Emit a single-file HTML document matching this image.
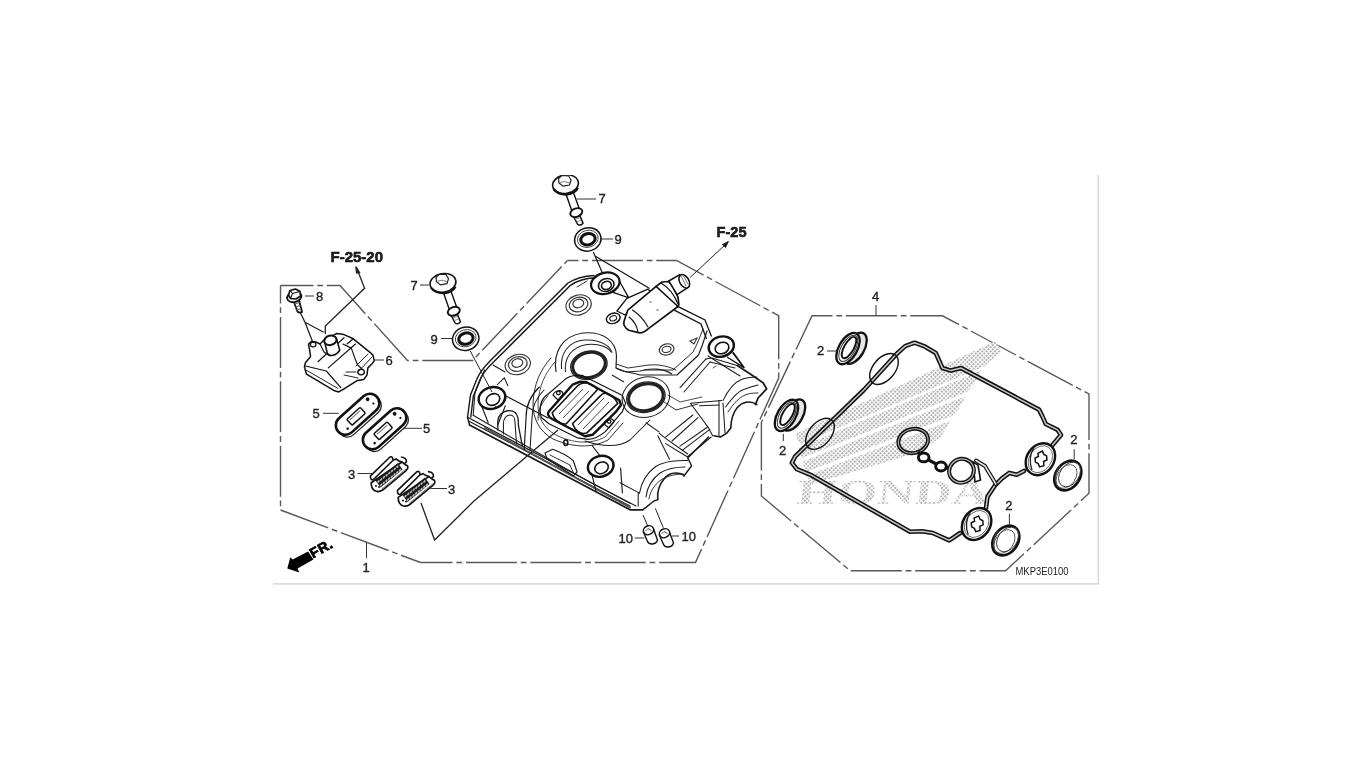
<!DOCTYPE html>
<html><head><meta charset="utf-8">
<style>
html,body{margin:0;padding:0;background:#fff;width:1366px;height:768px;overflow:hidden}
svg{position:absolute;left:0;top:0;filter:blur(0.35px)}
text{font-family:"Liberation Sans",sans-serif;fill:#222}
</style></head><body>
<svg width="1366" height="768" viewBox="0 0 1366 768">
<!-- frame -->
<path d="M273 583.8H1098.3V175" fill="none" stroke="#dcdce0" stroke-width="1.7"/>
<!-- dashed polygons -->
<g fill="none" stroke="#585858" stroke-width="1.4" stroke-dasharray="51 3.8 5.8 3.8">
<path d="M280.5 510V285.5" stroke-dashoffset="51.1"/>
<path d="M280.5 285.5H340L407.5 360.5H472.5L567.5 260.5" stroke-dashoffset="18"/>
<path d="M567.5 260.5H676.5L778.7 315.7V378L695.5 562.5H420.5" stroke-dashoffset="40"/>
<path d="M280.5 510L420.5 562.5" stroke-dashoffset="0"/>
<path d="M812 315.8H942.4L1089 394V493.3L1005.6 570.8H850.3L761.4 496V422.5Z" stroke-dashoffset="30.5"/>
</g>
<!-- labels -->
<g font-size="13" fill="#222" stroke="#222" stroke-width="0.35">
<text x="598.5" y="203">7</text>
<text x="614.5" y="244">9</text>
<text x="410.5" y="289.5">7</text>
<text x="430.5" y="343.5">9</text>
<text x="316" y="300.5">8</text>
<text x="385.5" y="364.5">6</text>
<text x="312.5" y="418">5</text>
<text x="423" y="432.5">5</text>
<text x="348" y="478.5">3</text>
<text x="448" y="493.5">3</text>
<text x="362.5" y="571.5">1</text>
<text x="618.5" y="542.7">10</text>
<text x="681.5" y="540.5">10</text>
<text x="872" y="300.5">4</text>
</g>
<g font-size="14" font-weight="bold" fill="#000" stroke="#000" stroke-width="0.5">
<text x="330.5" y="262" textLength="52.5" lengthAdjust="spacingAndGlyphs">F-25-20</text>
<text x="716.5" y="237" textLength="30" lengthAdjust="spacingAndGlyphs">F-25</text>
</g>
<text x="1015.5" y="574.5" font-size="10.5" fill="#333" textLength="53" lengthAdjust="spacingAndGlyphs">MKP3E0100</text>
<g fill="none" stroke="#333" stroke-width="1">
<path d="M577 199H596M600 239H613M420 285H429M441 338.5H452M305 296H314M374 360H384M323 413.3H338.7M403.3 428.3H422M357.5 473.5H372M430.4 488.5H447M366.5 543V558M634.7 538H644.4M672 536H679M876 305V315.5"/>
</g>

<defs>
<clipPath id="clipTop"><rect x="0" y="175" width="1366" height="600"/></clipPath>
<g id="bolt7">
 <path d="M566 194L571.8 210.8M573.7 193.3L579.5 209.3" stroke="#111" stroke-width="1.4" fill="none"/>
 <path d="M573 215.5L577.6 224.3Q580.5 226.3 583 223.2L579.3 214.2Z" stroke="#111" stroke-width="1.5" fill="#fff"/>
 <path d="M575 219.5L580.5 217.5M576.5 222L581.5 220" stroke="#777" stroke-width="0.8"/>
 <ellipse cx="576.3" cy="212.6" rx="6.2" ry="4.2" transform="rotate(-20 576.3 212.6)" stroke="#111" stroke-width="1.9" fill="#fff"/>
 <ellipse cx="565.5" cy="184.2" rx="13" ry="9.3" transform="rotate(-10 565.5 184.2)" stroke="#111" stroke-width="1.6" fill="#fff"/>
 <path d="M553.5 189Q558 195 567 194.5Q575 193.5 578 188" stroke="#111" stroke-width="2.2" fill="none"/>
 <path d="M558.5 178.5L562 175.5L568.5 175.8L571 180L569.5 185L563 186.2L559 183Z" stroke="#222" stroke-width="1.2" fill="#fff"/>
 <path d="M560 182.5L564.5 181.5L569.5 183" stroke="#555" stroke-width="0.8" fill="none"/>
</g>
<g id="washer9">
 <ellipse cx="587.8" cy="239.4" rx="13.3" ry="11.6" transform="rotate(-15 587.8 239.4)" stroke="#111" stroke-width="1.5" fill="#fff"/>
 <ellipse cx="587.8" cy="238.8" rx="10.5" ry="8.5" transform="rotate(-15 587.8 238.8)" stroke="#444" stroke-width="0.9" fill="none"/>
 <ellipse cx="588" cy="239.2" rx="7.3" ry="5.6" transform="rotate(-15 588 239.2)" stroke="#111" stroke-width="3" fill="#fff"/>
</g>
</defs>
<g clip-path="url(#clipTop)"><use href="#bolt7"/></g>
<use href="#bolt7" transform="translate(-122.5 98.7)"/>
<use href="#washer9"/>
<use href="#washer9" transform="translate(-122.1 99.4)"/>
<g fill="none" stroke="#1a1a1a" stroke-width="1.43" stroke-linejoin="round" stroke-linecap="round">
<!-- top-left double edge -->
<path d="M594 275.5C584 276 576 278 568 283L491 360C484 367 479 373 476.5 380L470.5 395L467.5 417.5L469.5 424.5"/>
<path d="M595 277.8C585 278.3 578 280.3 570.5 285.3L493.8 361.8C486.8 368.3 481.8 374.3 479.3 381.3L473.3 396.3L470.8 417"/>
<path d="M587 281L577 287" stroke-width="0.91"/>
<!-- bottom flange -->
<path d="M467.6 417.2L630 503.2" stroke-width="1.30"/>
<path d="M468.5 421L630 506" stroke-width="1.04"/>
<path d="M469.5 425L630 509.8L642.7 509.8" stroke-width="1.69"/>
<path d="M485 428L630 507.5" stroke="#555" stroke-width="2.00" stroke-dasharray="1.2 1"/>
<path d="M473.2 415.3L531.8 449.3L588.4 481.4L636 506" stroke-width="1.04"/>
<path d="M484.6 370L475 392.7L473.2 415.3" stroke-width="1.04"/>
<!-- right contour with humps -->
<path d="M642.7 509.8L646 507.4L653.9 501L657.8 499.6"/>
<path d="M657.8 499.6C657 492 659 485 664 479C668 474 675 471 683.8 474.9" stroke-width="1.60"/>
<path d="M683.8 476.2L691.6 465.8L687.7 458L708.5 437.1"/>
<path d="M639.5 493.1C641 484 646 474 655 467C664 461 675 460 687.7 460.6" stroke-width="1.04"/>
<path d="M646 497C647 488 652 479 660 473C668 468 677 467 685 467" stroke-width="1.04"/>
<path d="M649 499C650 492 654 485 661 480C667 476 675 474 683 474" stroke-width="0.91"/>
<path d="M638.2 493.1L638.2 506M620 482.7L639.5 493.1" stroke-width="1.04"/>
<path d="M657.8 435.8L669.5 459.3M659 433.2L665.6 438.4L687.7 454M665.6 443.6L687.7 457" stroke-width="1.04"/>
<path d="M646 422.8L659 431.9" stroke-width="1.04"/>
<path d="M665.6 437.1L692.9 415M672 441L698 417.6M682.5 450.2L709.8 429.3" stroke-width="1.04"/>
<path d="M687.7 456.7L711 437.1" stroke-width="1.30"/>
<!-- hump 1 -->
<path d="M737.3 365.4L752.9 375.8L763.3 383L766.6 388.9L758.1 398L755.5 404.5" stroke-width="1.82"/>
<path d="M756.8 404.5C750 400 742 402 737 408C732 414 731 422 730.8 427.9L726.9 433.1L720.4 437L713.9 435.7" stroke-width="1.60"/>
<path d="M723 400.6C728 390 735 382 741 379.7C746 377.5 751 377 756.8 377" stroke-width="1.04"/>
<path d="M725.6 407C732 398 740 390 745 388.9C750 387 754 386 758 385" stroke-width="1.04"/>
<path d="M728 412C733 404 740 396 748 394C752 393 755 393 758 393" stroke-width="0.91"/>
<path d="M719 400.6L719 435.7M723 403L725 433" stroke-width="1.04"/>
<path d="M690.4 403.2L721.7 400.6M699.5 405.8L719 405M690.4 403.2L708.6 427.9L712.6 435.7" stroke-width="1.04"/>
<path d="M680 446.1L707.3 427.3M680 387.6L706 358.9M684 392L710 362" stroke-width="1.04"/>
<path d="M706 358.9L712 358L737 365.4M710 362L735 368" stroke-width="1.04"/>
<path d="M713 368L716 366" stroke-width="0.78"/>
<!-- right plateau (upper) -->
<path d="M707 331L702 346L698.5 355L677 375L640 375C630 372 622 372 616 368" stroke-width="1.17"/>
<path d="M703 329L697 344L693 352L673 370L644 370" stroke-width="0.91"/>
<path d="M744 367.6L733 353" stroke-width="1.43"/>
<path d="M708 356L740 376" stroke-width="1.04"/>
<!-- lower plateau around PCV -->
<path d="M539.3 387C530 396 526 405 526.1 417.2L524.2 449.3" stroke-width="1.17"/>
<path d="M544 390C536 398 532 407 532 418L530 450" stroke-width="1.04"/>
<path d="M548 396C541 403 538 410 538 420" stroke-width="0.91"/>
<path d="M585 441C600 446 618 448 630 440L650 420" stroke-width="1.04"/>
<!-- left boss legs & U rib -->
<path d="M480.8 404L488.3 422.9" stroke-width="1.17"/>
<path d="M505.3 405.9L497.8 424.8" stroke-width="1.17"/>
<path d="M497.8 430L497.8 421C498 416 502 411 509.1 410.6C514 410.5 517 413 518 418L518.6 426.7L522.3 445.6" stroke-width="1.30"/>
<path d="M503.4 434L503.4 424.8C503 419 506 415 510 415C513 415 515 418 515 422L516.5 444" stroke-width="1.04"/>
<!-- slot -->
<path d="M545 453L552.6 449.3C560 452 568 456 573.3 460.7L577.1 472L573.3 475.8L546.9 458.8Z" stroke-width="1.17"/>
<path d="M550 455L570 465L573 472" stroke-width="0.91"/>
<!-- lower-mid boss legs -->
<path d="M590.3 468.2L596 490.9" stroke-width="1.17"/>
<path d="M620.6 468.2L622.4 492.8" stroke-width="1.17"/>
<path d="M592.2 445.6L600.7 456.9" stroke-width="1.04"/>
<!-- extra plateau double contours -->
<path d="M551 358C540 370 534 384 533 403C533 419 539 431 553 439C571 447 591 449 608 440L623 423" stroke-width="0.91"/>
<path d="M555 362C545 373 539 386 538 404C538 417 543 428 556 435C572 443 590 445 605 437L619 421" stroke-width="0.78"/>
<path d="M616 364L628 368L642 366C652 364 664 364 676 370" stroke-width="0.91"/>
<path d="M664 402L676 410L698 404" stroke-width="0.91"/>
<path d="M668 395L680 402L702 397" stroke-width="0.78"/>
<!-- long internal lines -->
<path d="M506 396L548 418" stroke-width="1.17"/>
<path d="M493 365L505 372" stroke-width="1.04"/>
<path d="M495.4 256.3L0 0" stroke="none"/>
</g>
<!-- bosses -->
<g fill="#fff" stroke="#111">
<ellipse cx="605.3" cy="283.3" rx="14.5" ry="10.5" transform="rotate(-15 605.3 283.3)" stroke-width="2.20"/>
<ellipse cx="606.2" cy="285" rx="8" ry="6.3" transform="rotate(-20 606.2 285)" stroke-width="1.56"/>
<ellipse cx="606.4" cy="285.4" rx="5" ry="4" transform="rotate(-20 606.4 285.4)" stroke-width="1.60"/>
<ellipse cx="721.3" cy="346.6" rx="12.8" ry="10" transform="rotate(-15 721.3 346.6)" stroke-width="2.40"/>
<ellipse cx="722" cy="348" rx="7" ry="5.6" transform="rotate(-20 722 348)" stroke-width="1.56"/>
<ellipse cx="492" cy="398" rx="13.5" ry="10.8" transform="rotate(-15 492 398)" stroke-width="2.40"/>
<ellipse cx="493" cy="399.5" rx="7" ry="5.6" transform="rotate(-25 493 399.5)" stroke-width="1.56"/>
<ellipse cx="600.7" cy="466.3" rx="13" ry="10.3" transform="rotate(-15 600.7 466.3)" stroke-width="2.40"/>
<ellipse cx="601.5" cy="467.8" rx="7" ry="5.6" transform="rotate(-25 601.5 467.8)" stroke-width="1.56"/>
</g>
<g fill="none" stroke="#111" stroke-width="1.30">
<path d="M619.4 281.3L628.8 297.9L611 291.7"/>
<path d="M733 352L744 367.6L727 357"/>
<path d="M497 385L504.3 377.8L508 386" stroke-width="1.04"/>
<path d="M496 406L492 410" stroke-width="0.78"/>
</g>
<!-- flat circles -->
<g fill="none" stroke="#333" stroke-width="1.17">
<ellipse cx="578.6" cy="305" rx="12.8" ry="10" transform="rotate(-15 578.6 305)"/>
<ellipse cx="578.6" cy="304.5" rx="9.5" ry="7.2" transform="rotate(-15 578.6 304.5)"/>
<ellipse cx="578.3" cy="303.5" rx="5.5" ry="4.2" transform="rotate(-15 578.3 303.5)"/>
<ellipse cx="517.8" cy="364.5" rx="12.8" ry="10" transform="rotate(-15 517.8 364.5)"/>
<ellipse cx="517.8" cy="364" rx="9.5" ry="7.2" transform="rotate(-15 517.8 364)"/>
<ellipse cx="517.3" cy="363" rx="5.5" ry="4.2" transform="rotate(-15 517.3 363)"/>
<ellipse cx="666.6" cy="349.4" rx="7.5" ry="5.5" transform="rotate(-15 666.6 349.4)"/>
<ellipse cx="666.6" cy="349.4" rx="4.5" ry="3" transform="rotate(-15 666.6 349.4)"/>
<ellipse cx="613.7" cy="318.4" rx="6.5" ry="5" transform="rotate(-15 613.7 318.4)"/>
<path d="M690 341L697 338L694 344Z" stroke-width="1.04"/>
</g>
<!-- spark plug holes -->
<g fill="none" stroke="#222">
<path d="M556 372C553 352 562 336 583 333C603 331 616 341 616.5 356L616 368" stroke-width="1.17"/>
<path d="M561.5 369C560 354 568 341 585 340C601 339 611 347 612 353" stroke-width="1.04"/>
<path d="M565.5 372C564 358 571 347 587 344.5C600 343 609 348 611 352" stroke-width="1.04"/>
<ellipse cx="588.9" cy="365.2" rx="18.5" ry="14" transform="rotate(-15 588.9 365.2)" stroke-width="1.30"/>
<ellipse cx="589" cy="365" rx="16.5" ry="12.3" transform="rotate(-15 589 365)" stroke-width="3.00" fill="#fff"/>
<path d="M616 368L626 372L640 371C650 368 663 368 672 374" stroke-width="1.17"/>
<path d="M612 375L624 382" stroke-width="1.04"/>
<ellipse cx="645.9" cy="397.2" rx="24" ry="20" transform="rotate(-15 645.9 397.2)" stroke-width="1.04"/>
<ellipse cx="645.9" cy="397.2" rx="19.5" ry="15" transform="rotate(-15 645.9 397.2)" stroke-width="1.30"/>
<ellipse cx="645.9" cy="397.2" rx="17.5" ry="13.2" transform="rotate(-15 645.9 397.2)" stroke-width="3.00" fill="#fff"/>
</g>
<!-- PCV box -->
<g fill="none" stroke="#111" stroke-linejoin="round">
<path d="M544.4 397.2L566.3 378.4C570 376 576 375 581.9 375.3L622.5 395.6L625.6 403.4L622.5 411.3L605.3 431.6C600 436 594 439 588.1 439.4L577.2 437.8L549 423.8L541.3 417.5C539 411 540 402 544.4 397.2Z" stroke-width="1.17"/>
<path d="M549 411.3L572.5 384.7L580.3 381.6L586.6 382.3L619.4 400.3L621 405L616.3 411.3L592.8 434.7L585 436.3L552.2 419C548 417 547 414 549 411.3Z" stroke-width="2.40"/>
<path d="M552.2 412.8L577.2 386.3C582 381 591 382 597.5 389.4L566.3 423.8C561 425 554 420 552.2 412.8Z" stroke-width="1.56"/>
<path d="M572.5 423.8L600.6 395.6C604 391 612 393 617.8 403.4L586.6 433.1C580 435 575 430 572.5 423.8Z" stroke-width="1.56"/>
<path d="M559 414L583 389M563 418L589 391M578 425L604 398M583 429L609 402" stroke-width="0.78"/>
<path d="M553 395C555 390 562 389 563 394L558 400Z" stroke-width="1.17"/>
<path d="M604 424C606 418 613 417 614 422L609 428Z" stroke-width="1.17"/>
<circle cx="558.4" cy="393" r="1.8" stroke-width="1.30"/>
<circle cx="609.2" cy="421.6" r="1.8" stroke-width="1.30"/>
<ellipse cx="565.8" cy="442.7" rx="2" ry="2.8" stroke-width="1.56"/>
</g>
<!-- sensor -->
<g fill="#fff" stroke="#111" stroke-linejoin="round" stroke-linecap="round">
<path d="M626.9 298.3L647.9 289.1L651 292L625 315L616.9 311Z" stroke-width="1.30"/>
<ellipse cx="613.2" cy="318.3" rx="7" ry="5" transform="rotate(-20 613.2 318.3)" stroke-width="1.30"/>
<ellipse cx="613.2" cy="318.3" rx="3.5" ry="2.5" transform="rotate(-20 613.2 318.3)" stroke-width="1.04"/>
<path d="M627.8 310.1L656.1 286.4L662 282L668 281.5L672 284L678 297.4L678.9 304.6L678 306.5L648.8 328.4C646 331 643 333 639.6 332.9L628.7 330.2C625 328 623 325 624.1 321.1Z" stroke-width="1.69"/>
<path d="M656.1 286.4L678 306.5" fill="none" stroke-width="1.50"/>
<path d="M661 283C668 287 674 294 678 304" fill="none" stroke-width="1.17"/>
<path d="M632.4 310.1C637 313 644 320 648 327M629 317C633 320 637 326 638 332" fill="none" stroke-width="1.17"/>
<path d="M668.8 281L679.8 274.6L687 288.2L677 294.6Z" stroke-width="1.56"/>
<ellipse cx="684.3" cy="281.3" rx="4.6" ry="7.3" transform="rotate(-30 684.3 281.3)" stroke-width="1.56"/>
<path d="M681 276L686 286M683 275L688 284" fill="none" stroke="#666" stroke-width="0.91"/>
<path d="M650 302L651 302M657 310L658 310" stroke="#888" stroke-width="1.56"/>
</g>
<g fill="none" stroke="#111" stroke-width="1.30">
<path d="M676.1 305.6L705 320L711.5 336.5"/>
<path d="M674.3 310.1L701 324L706.5 339"/>
<path d="M595.4 256.3L649.6 288.5" stroke-width="1.17"/>
<path d="M593.3 252L602.2 272.4" stroke-width="1.17"/>
</g>
<!-- bolt 8 -->
<g stroke="#111" fill="#fff" stroke-linejoin="round">
<path d="M293.5 301L297.5 311.5Q299.5 313.5 302 312L299 300Z" stroke-width="1.82"/>
<path d="M294.5 304L299.5 302.5M295.5 307L300.5 305.5M296.5 310L301 308.5" stroke="#666" stroke-width="1.04"/>
<ellipse cx="294.3" cy="297" rx="7.3" ry="5" transform="rotate(-15 294.3 297)" stroke-width="1.82"/>
<path d="M288.5 295L290 290.5L295.5 289L300 291.5L300.5 296L296 299L290.5 298.5Z" stroke-width="1.69"/>
<path d="M290 290.5L292.5 293.5L300 291.5M292.5 293.5L290.5 298.5" stroke-width="1.04" fill="none"/>
</g>
<g fill="none" stroke="#222" stroke-width="1.30">
<path d="M300.3 312.8L305 322.2L312.3 341M305 322.2L323.7 332.3"/>
<!-- F-25-20 leader -->
<path d="M357.5 270L364.6 288.3L325.3 326.1V334"/>
<path d="M355.8 266.5L359.5 272.5L356.6 273Z" fill="#222"/>
</g>
<!-- cover 6 -->
<g stroke="#111" fill="#fff" stroke-linejoin="round" stroke-linecap="round">
<path d="M308.5 344L311.7 341.4L315.8 341.9L320 344L326 338L334.6 334.6L336.7 333.5L344 334.6L353.3 338.8L370 352.3L373.1 355.4L374.2 360.6L372.1 363.8L367.9 367.9L366.9 375.2L363.8 379.4L357.5 380.4L344 388.8L338.8 391.9L334.6 390.8L306.5 374.2L304.4 366.9L305.4 362.7L310.6 356.5L309.6 350.2Z" stroke-width="1.50"/>
<g fill="none" stroke-width="1.17">
<path d="M305.5 366L326.3 371L340.8 387.7"/>
<path d="M306 370L338 388.5" stroke-width="0.91"/>
<path d="M328.3 367.9L355.4 344"/>
<path d="M318 361.7L344 337.7"/>
<path d="M342.9 344L351.3 348.1L355.4 359.6L357.5 364.8L362 369"/>
<path d="M353.3 338.8L347 344"/>
<path d="M372 357L358 372M368 354L356 366" stroke-width="0.91"/>
<path d="M344 375L358 378M346 372L356 372" stroke-width="0.91"/>
<ellipse cx="361.1" cy="372.1" rx="3.3" ry="2.7" stroke-width="1.30"/>
<ellipse cx="313.2" cy="344.5" rx="2.8" ry="2.3" stroke-width="1.17"/>
<path d="M320 344L324 352L330 356"/>
</g>
<path d="M324.4 341L327.3 353.3C330 357 336 356 339.8 350.2L336.5 339" stroke-width="1.56"/>
<ellipse cx="330.4" cy="340.3" rx="6.2" ry="4.7" transform="rotate(-15 330.4 340.3)" stroke-width="2.00"/>
</g>
<!-- rubber 5 -->
<defs>
<g id="rub5">
<g transform="translate(357.6 414.3) rotate(-42)">
<rect x="-26" y="-6.5" width="52" height="19" rx="9.5" fill="#fff" stroke="#222" stroke-width="1.30"/>
<rect x="-26" y="-9.5" width="52" height="19" rx="9.5" fill="#fff" stroke="#111" stroke-width="2.60"/>
<rect x="-11.5" y="-3.5" width="18" height="8" rx="1" fill="none" stroke="#111" stroke-width="1.50"/>
<path d="M-9.5 -1H4.5" stroke="#777" stroke-width="1.04"/>
<circle cx="17.5" cy="-4.5" r="1.9" fill="#111"/>
<circle cx="19" cy="2.5" r="1.1" fill="#111"/>
<circle cx="-17" cy="4" r="1.3" fill="#111"/>
</g>
</g>
<g id="plate3">
<path d="M371.2 482.8C371 487 373 491 376.7 491.4C379 492 381 491 383 489.8L406.4 470.3C408.5 468 408.5 465.5 405.6 464.8L402 462Z" fill="#fff" stroke="#111" stroke-width="1.70" stroke-linejoin="round"/>
<path d="M370.5 475.8L390 457C392 456 393 458 393.1 460.2L374 479C372 481 370 479 370.5 475.8Z" fill="#fff" stroke="#111" stroke-width="1.60" stroke-linejoin="round"/>
<path d="M375.5 480.5L398 463L402.5 469.5L380.5 487.5Z" fill="#1a1a1a"/>
<ellipse cx="378.5" cy="481.5" rx="0.9" ry="1.6" transform="rotate(35 378.5 481.5)" fill="#bbb"/><ellipse cx="381.2" cy="479.4" rx="0.9" ry="1.6" transform="rotate(35 381.2 479.4)" fill="#bbb"/><ellipse cx="383.9" cy="477.3" rx="0.9" ry="1.6" transform="rotate(35 383.9 477.3)" fill="#bbb"/><ellipse cx="386.6" cy="475.2" rx="0.9" ry="1.6" transform="rotate(35 386.6 475.2)" fill="#bbb"/><ellipse cx="389.3" cy="473.1" rx="0.9" ry="1.6" transform="rotate(35 389.3 473.1)" fill="#bbb"/><ellipse cx="392.0" cy="471.0" rx="0.9" ry="1.6" transform="rotate(35 392.0 471.0)" fill="#bbb"/><ellipse cx="394.7" cy="468.9" rx="0.9" ry="1.6" transform="rotate(35 394.7 468.9)" fill="#bbb"/><ellipse cx="397.4" cy="466.8" rx="0.9" ry="1.6" transform="rotate(35 397.4 466.8)" fill="#bbb"/><ellipse cx="381.0" cy="485.0" rx="0.9" ry="1.6" transform="rotate(35 381.0 485.0)" fill="#bbb"/><ellipse cx="383.7" cy="482.9" rx="0.9" ry="1.6" transform="rotate(35 383.7 482.9)" fill="#bbb"/><ellipse cx="386.4" cy="480.8" rx="0.9" ry="1.6" transform="rotate(35 386.4 480.8)" fill="#bbb"/><ellipse cx="389.1" cy="478.7" rx="0.9" ry="1.6" transform="rotate(35 389.1 478.7)" fill="#bbb"/><ellipse cx="391.8" cy="476.6" rx="0.9" ry="1.6" transform="rotate(35 391.8 476.6)" fill="#bbb"/><ellipse cx="394.5" cy="474.5" rx="0.9" ry="1.6" transform="rotate(35 394.5 474.5)" fill="#bbb"/><ellipse cx="397.2" cy="472.4" rx="0.9" ry="1.6" transform="rotate(35 397.2 472.4)" fill="#bbb"/><ellipse cx="399.9" cy="470.3" rx="0.9" ry="1.6" transform="rotate(35 399.9 470.3)" fill="#bbb"/>
<path d="M393.1 460.2L396 459L399 461L402 462" fill="none" stroke="#111" stroke-width="1.69"/>
<path d="M400.9 457C404 457 407 459 406.4 462L404 464" fill="none" stroke="#111" stroke-width="1.60"/>
<path d="M382 489L406 469" fill="none" stroke="#555" stroke-width="0.78"/>
<circle cx="376" cy="486" r="1" fill="#111"/>
<circle cx="379" cy="487" r="1" fill="#111"/>
</g>
</defs>
<use href="#rub5"/>
<use href="#rub5" transform="translate(27 14.5)"/>
<use href="#plate3"/>
<use href="#plate3" transform="translate(27 14.6)"/>
<g fill="none" stroke="#222" stroke-width="1.30">
<path d="M421 503L434.6 540L474 501"/>
<path d="M474 501L558 430" stroke-width="1.30"/>
</g>
<!-- FR arrow -->
<g fill="#000">
<path d="M287.3 568.4L290.3 557.3L292.6 559.6L308.1 551.4L313.4 559.6L297.6 568.4L299.3 572.5Z"/>
<text x="0" y="0" font-size="14" font-weight="bold" style="fill:#000" stroke="#000" stroke-width="0.78" letter-spacing="0.5" transform="translate(313 558.5) rotate(-29)">FR.</text>
</g>
<g fill="none" stroke="#222" stroke-width="1">
<!-- F-25 arrow -->
<path d="M690.2 277.4L726 244"/>
<path d="M728.4 241.4L722.5 244.5L725.5 247.5Z" fill="#111"/>
<!-- dowel leaders -->
<path d="M643 515L647.9 526.4M655.3 508.3L663.3 527.7"/>
<!-- washer9 left leader to boss -->
<path d="M470.3 351L492 392"/>
</g>
<defs>
<g id="dowel">
<path d="M643.2 531.5L647.5 541.5C649 545 656 545 657.5 540L653.5 529" fill="#fff" stroke="#111" stroke-width="1.4"/>
<ellipse cx="648.5" cy="530.2" rx="5.3" ry="4.3" transform="rotate(-25 648.5 530.2)" fill="#fff" stroke="#111" stroke-width="1.5"/>
<path d="M645.5 531L648 528.5L651.5 530.5" fill="none" stroke="#444" stroke-width="0.9"/>
</g>
</defs>
<use href="#dowel"/>
<use href="#dowel" transform="translate(16 3)"/>
<defs>
<pattern id="dots" width="3" height="3" patternUnits="userSpaceOnUse" patternTransform="rotate(45)">
<rect width="3" height="3" fill="#fff"/>
<rect width="2" height="2" fill="#b4b4b4"/>
</pattern>
</defs>
<!-- HONDA watermark -->
<g fill="url(#dots)">
<path d="M795 434L996 341L1001 351L985 366L800 444Z"/>
<path d="M798 448L982 370L974 384L967 392L802 458Z"/>
<path d="M802 462L966 396L958 410L952 416L806 472Z"/>
<path d="M806 476L950 421L941 437L920 452L812 484Z"/>
<text x="0" y="0" style="fill:url(#dots);font-family:'Liberation Serif',serif" font-size="35" font-weight="bold" textLength="192" lengthAdjust="spacingAndGlyphs" transform="translate(796 503.5) skewX(-6)">HONDA</text>
</g>
<!-- seals 2 (rings) -->
<defs>
<g id="ring2">
<ellipse cx="855" cy="348.2" rx="9.2" ry="17.2" transform="rotate(30 855 348.2)" fill="#e6e6e6" stroke="#111" stroke-width="2.3"/>
<ellipse cx="848" cy="348.6" rx="9.2" ry="17.2" transform="rotate(30 848 348.6)" fill="#fff" stroke="#111" stroke-width="2.3"/>
<ellipse cx="848.3" cy="348.3" rx="7" ry="14.6" transform="rotate(30 848.3 348.3)" fill="none" stroke="#333" stroke-width="1"/>
<ellipse cx="849" cy="347.6" rx="4.8" ry="12" transform="rotate(30 849 347.6)" fill="#fff" stroke="#111" stroke-width="1.9"/>
</g>
<g id="plug2">
<ellipse cx="1067.8" cy="475.6" rx="12" ry="16" transform="rotate(35 1067.8 475.6)" fill="#fff" stroke="#111" stroke-width="2.8"/>
<ellipse cx="1069.5" cy="474.5" rx="9.5" ry="13.5" transform="rotate(35 1069.5 474.5)" fill="#fff" stroke="#333" stroke-width="0.9"/>
<path d="M1058 487C1054 482 1055 472 1060 466" fill="none" stroke="#555" stroke-width="0.9"/>
<ellipse cx="1066.5" cy="476.5" rx="9" ry="13" transform="rotate(35 1066.5 476.5)" fill="none" stroke="#444" stroke-width="0.8"/>
</g>
</defs>
<use href="#ring2"/>
<use href="#ring2" transform="translate(-61.5 66.8)"/>
<use href="#plug2"/>
<use href="#plug2" transform="translate(-62 65)"/>
<g fill="none" stroke="#333" stroke-width="1">
<path d="M827 351H836M783.3 433.8V441M1074.2 449.2V459.2M1009.4 513.9V524.9"/>
</g>
<g font-size="13" fill="#222" stroke="#222" stroke-width="0.35">
<text x="817" y="355">2</text>
<text x="779" y="454.6">2</text>
<text x="1070.3" y="444.3">2</text>
<text x="1005.3" y="510.3">2</text>
</g>
<!-- gasket -->
<g fill="none" stroke-linejoin="round" stroke-linecap="round">
<path id="gk" d="M795 456.7L863.8 390L896.8 353.7L905.2 346.1L914.6 342.7L923.9 346.1L935.7 352.9L939.1 360.5L942.5 368.1L951 370.6L961.1 368.1L1039 409.6L1042.4 416.4L1045.8 424L1057.6 429.9L1061 435L1052.5 445.1M1024 471L1016.7 474.7L1009.4 472.9L1002 478.4L994.8 485.7L987.5 496.6L986 508M960.2 533L949.2 540.4L932.8 533L921.9 531.3L910 531.7L811.7 475.4L797 469.2L791.9 462.9L795 456.7" stroke="#111" stroke-width="4.6"/>
<path d="M795 456.7L863.8 390L896.8 353.7L905.2 346.1L914.6 342.7L923.9 346.1L935.7 352.9L939.1 360.5L942.5 368.1L951 370.6L961.1 368.1L1039 409.6L1042.4 416.4L1045.8 424L1057.6 429.9L1061 435L1052.5 445.1M1024 471L1016.7 474.7L1009.4 472.9L1002 478.4L994.8 485.7L987.5 496.6L986 508M960.2 533L949.2 540.4L932.8 533L921.9 531.3L910 531.7L811.7 475.4L797 469.2L791.9 462.9L795 456.7" stroke="#c8c8c8" stroke-width="1.5"/>
<!-- branch to inner loop -->
<path d="M995.8 484L985 466L976 460.5" stroke="#111" stroke-width="4"/>
<path d="M995.8 484L985 466L976 460.5" stroke="#e4e4e4" stroke-width="1.6"/>
</g>
<!-- spark tube ellipses on gasket -->
<g fill="none" stroke="#111">
<ellipse cx="884" cy="369" rx="11" ry="18" transform="rotate(40 884 369)" stroke-width="1.4"/>
<ellipse cx="820" cy="433.8" rx="11" ry="18" transform="rotate(40 820 433.8)" stroke-width="1.4"/>
</g>
<!-- inner seals -->
<g fill="none" stroke="#111">
<ellipse cx="913.2" cy="441" rx="15" ry="12" transform="rotate(-15 913.2 441)" stroke-width="4"/>
<ellipse cx="913.2" cy="441" rx="15" ry="12" transform="rotate(-15 913.2 441)" stroke="#aaa" stroke-width="1.1"/>
<path d="M918 452L923.7 457.4L941 466.5L948 468" stroke-width="3.4"/>
<ellipse cx="923.7" cy="457.4" rx="5.3" ry="4.4" fill="#fff" stroke-width="3"/>
<ellipse cx="941" cy="466.5" rx="5.3" ry="4.4" fill="#fff" stroke-width="3"/>
<path d="M973 462L978 465L980.5 480L975 482Z" fill="#fff" stroke-width="1.6"/>
<ellipse cx="961.5" cy="470.8" rx="12.5" ry="11.8" transform="rotate(-25 961.5 470.8)" fill="#fff" stroke-width="4"/>
<ellipse cx="961.5" cy="470.8" rx="12.5" ry="11.8" transform="rotate(-25 961.5 470.8)" stroke="#bbb" stroke-width="1.3"/>
</g>
<!-- grommets -->
<defs>
<g id="grom">
<ellipse cx="1040.4" cy="459.2" rx="13.5" ry="17" transform="rotate(35 1040.4 459.2)" fill="#fff" stroke="#111" stroke-width="2.4"/>
<ellipse cx="1040.4" cy="459.2" rx="11" ry="14.5" transform="rotate(35 1040.4 459.2)" fill="none" stroke="#555" stroke-width="0.8"/>
<path d="M1037 454L1041 451L1043 454L1046 455L1047 459L1044 461L1045 465L1041 467L1039 464L1036 463L1035 459L1038 457Z" fill="none" stroke="#111" stroke-width="1.5" transform="rotate(10 1041 459)"/>
<path d="M1034 448C1030 453 1029 462 1032 470" fill="none" stroke="#222" stroke-width="1.3"/>
</g>
</defs>
<use href="#grom"/>
<use href="#grom" transform="translate(-63.8 64.8)"/>
</svg>
</body></html>
